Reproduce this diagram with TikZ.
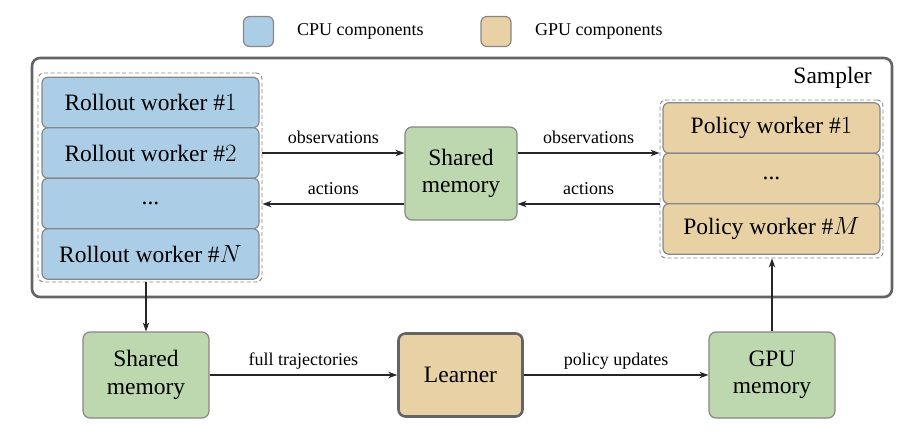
\documentclass[tikz,border=0pt]{standalone}
\usepackage{fontspec}
\setmainfont{LiberationSerif}[Extension=.ttf, UprightFont=*-Regular, ItalicFont=*-Italic, BoldFont=*-Bold, BoldItalicFont=*-BoldItalic]
\newfontfamily\tms{LiberationSerif}[Extension=.ttf, UprightFont=*-Regular, ItalicFont=*-Italic, BoldFont=*-Bold, BoldItalicFont=*-BoldItalic]
\usetikzlibrary{arrows.meta}
\definecolor{cpublue}{RGB}{171,206,230}
\definecolor{gputan}{RGB}{232,210,165}
\definecolor{memgreen}{RGB}{189,215,174}
\definecolor{boxgray}{RGB}{135,135,135}
\definecolor{darkframe}{RGB}{100,100,100}
\tikzset{
  big/.style={font=\tms\fontsize{23.5}{27.5}\selectfont},
  lbl/.style={font=\tms\fontsize{18}{21}\selectfont, inner sep=0pt},
  wbox/.style={draw=boxgray, line width=1.2pt, rounded corners=6pt, minimum width=217pt, inner sep=0pt, big},
  cpubox/.style={wbox, fill=cpublue, minimum height=50.5pt},
  gpubox/.style={wbox, fill=gputan, minimum height=50.5pt},
  membox/.style={draw=boxgray, line width=1.2pt, rounded corners=7pt, fill=memgreen, minimum width=126pt, minimum height=86pt, align=center, inner sep=0pt, big},
  group/.style={draw=boxgray, line width=0.9pt, dashed, dash pattern=on 4pt off 2.5pt, rounded corners=6pt, inner sep=0pt},
  arr/.style={draw=black!85, line width=1.3pt, -{Stealth[length=9pt,width=6.5pt]}},
  legbox/.style={draw=boxgray, line width=1.2pt, rounded corners=6pt, minimum width=30pt, minimum height=30pt, inner sep=0pt},
}
\begin{document}
\begin{tikzpicture}[x=1pt,y=-1pt]
\useasboundingbox (0,0) rectangle (915,439);
% legend
\node[legbox, fill=cpublue] (lcpu) at (258.5,31.5) {};
\node[lbl, anchor=base west] (lcput) at (297,35) {CPU components};
\node[legbox, fill=gputan] (lgpu) at (496,31.5) {};
\node[lbl, anchor=base west] (lgput) at (535,35) {GPU components};
% sampler frame
\node[draw=darkframe, line width=2.6pt, rounded corners=8pt, minimum width=860pt, minimum height=239pt, inner sep=0pt] (sampler) at (462,177.5) {};
\node[big, anchor=base east, inner sep=0pt] (samplerlbl) at (872,83) {Sampler};
% left group
\node[group, minimum width=224pt, minimum height=209pt] (lg) at (150,177.5) {};
\node[cpubox] (r1) at (150.5,102.5) {Rollout worker $\#1$};
\node[cpubox] (r2) at (150.5,153) {Rollout worker $\#2$};
\node[cpubox] (r3) at (150.5,203.5) {...};
\node[cpubox] (r4) at (150.5,254) {Rollout worker $\#N$};
% right group
\node[group, minimum width=223pt, minimum height=158pt] (rg) at (771.5,179) {};
\node[gpubox] (p1) at (771.5,128) {Policy worker $\#1$};
\node[gpubox] (p2) at (771.5,178.5) {...};
\node[gpubox] (p3) at (771.5,229) {Policy worker $\#M$};
% shared memory (middle)
\node[membox, minimum width=112pt, minimum height=93pt] (sm) at (461,173.5) {Shared\\memory};
% bottom row
\node[membox] (smb) at (146,375) {Shared\\memory};
\node[draw=darkframe, line width=2.6pt, rounded corners=7pt, fill=gputan, minimum width=124pt, minimum height=83pt, inner sep=0pt, big] (learner) at (460.5,375) {Learner};
\node[membox] (gm) at (772,375) {GPU\\memory};
% helper coordinates for arrow rows
\coordinate (obsrow) at (0,153);
\coordinate (actrow) at (0,204);
% arrows
\draw[arr] (lg.east |- obsrow) -- node[lbl, yshift=10pt, anchor=base] {observations} (sm.west |- obsrow);
\draw[arr] (sm.east |- obsrow) -- node[lbl, yshift=10pt, anchor=base] {observations} (rg.west |- obsrow);
\draw[arr] (sm.west |- actrow) -- node[lbl, yshift=10pt, anchor=base] {actions} (lg.east |- actrow);
\draw[arr] (rg.west |- actrow) -- node[lbl, yshift=10pt, anchor=base] {actions} (sm.east |- actrow);
\draw[arr] (smb.north |- lg.south) -- (smb.north);
\draw[arr] (smb.east) -- node[lbl, yshift=10pt, anchor=base] {full trajectories} (learner.west);
\draw[arr] (learner.east) -- node[lbl, yshift=10pt, anchor=base] {policy updates} (gm.west);
\draw[arr] (gm.north) -- (gm.north |- rg.south);
\end{tikzpicture}
\end{document}
